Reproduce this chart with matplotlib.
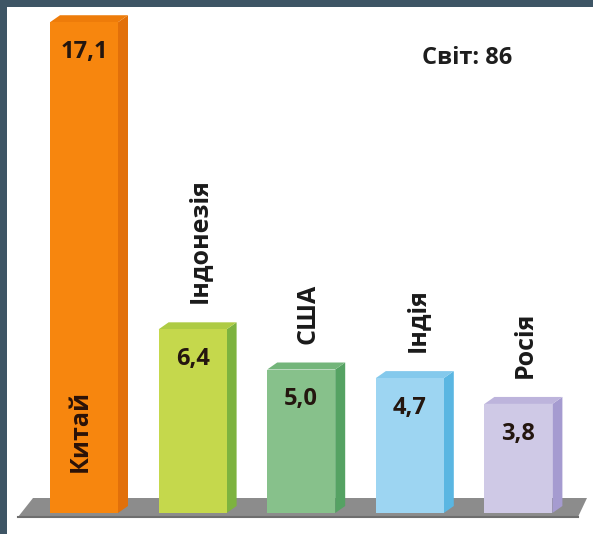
import matplotlib
matplotlib.use("Agg")
import matplotlib.pyplot as plt
from matplotlib.patches import Polygon, Rectangle

# chart data
countries = ["Китай", "Індонезія", "США", "Індія", "Росія"]
values = [17.1, 6.4, 5.0, 4.7, 3.8]
value_labels = ["17,1", "6,4", "5,0", "4,7", "3,8"]
world_label = "Світ: 86"

front_colors = ["#f7860e", "#c5d84c", "#87c18b", "#9dd5f2", "#cfc9e6"]
side_colors = ["#e2700a", "#7db33f", "#55a263", "#5ab6e2", "#a59bd0"]
top_colors = ["#ee7c0a", "#aecb44", "#73b57a", "#84c9ec", "#bdb4dc"]

PX_PER_UNIT = 28.7
BASE_PX = 513
W, H = 593, 534

plt.rcParams["font.family"] = ["Open Sans", "DejaVu Sans"]

fig = plt.figure(figsize=(W / 100, H / 100), dpi=100)
fig.patch.set_facecolor("#3e5565")
fig.patches.append(Rectangle((7 / W, 0), 1 - 7 / W, (H - 7) / H,
                             transform=fig.transFigure, facecolor="white",
                             edgecolor="none", zorder=-1))

ax = fig.add_axes([0, 0, 1, 1])
ax.set_facecolor("none")
ax.set_xlim(0, W)
ax.set_ylim((BASE_PX - H) / PX_PER_UNIT, BASE_PX / PX_PER_UNIT)
ax.axis("off")

def u(px):
    return px / PX_PER_UNIT

# floor
floor = Polygon([(18, u(-4)), (578, u(-4)), (587, u(15)), (33, u(15))],
                closed=True, facecolor="#8c8c8c", edgecolor="none", zorder=1)
ax.add_patch(floor)
ax.plot([18, 578], [u(-4), u(-4)], color="#6e6e6e", lw=1.5, zorder=1)

x0, step, width = 84, 108.6, 68
dx, dy = 10, u(7)
xs = [x0 + i * step for i in range(len(values))]

ax.bar(xs, values, width=width, color=front_colors, zorder=3)

for x, h, sc, tc in zip(xs, values, side_colors, top_colors):
    xl, xr = x - width / 2, x + width / 2
    ax.add_patch(Polygon([(xr, 0), (xr + dx, dy), (xr + dx, h + dy), (xr, h)],
                         closed=True, facecolor=sc, edgecolor="none", zorder=2))
    ax.add_patch(Polygon([(xl, h), (xr, h), (xr + dx, h + dy), (xl + dx, h + dy)],
                         closed=True, facecolor=tc, edgecolor="none", zorder=2))

for i, (x, h, lab, name) in enumerate(zip(xs, values, value_labels, countries)):
    ax.text(x, h - u(30), lab, ha="center", va="center", fontsize=17,
            fontweight="bold", color="#24160f", zorder=4)
    if i == 0:
        ax.text(x - 4, u(41), name, rotation=90, ha="center", va="bottom",
                fontsize=18, fontweight="bold", color="#2a1208", zorder=4)
    else:
        ax.text(x + 7, h + u(26), name, rotation=90, ha="center", va="bottom",
                fontsize=18, fontweight="bold", color="#1a1a1a", zorder=4)

ax.text(467, u(BASE_PX - 58), world_label, ha="center", va="center",
        fontsize=17, fontweight="bold", color="#1e1e1e")

fig.savefig("out.png", dpi=100)
